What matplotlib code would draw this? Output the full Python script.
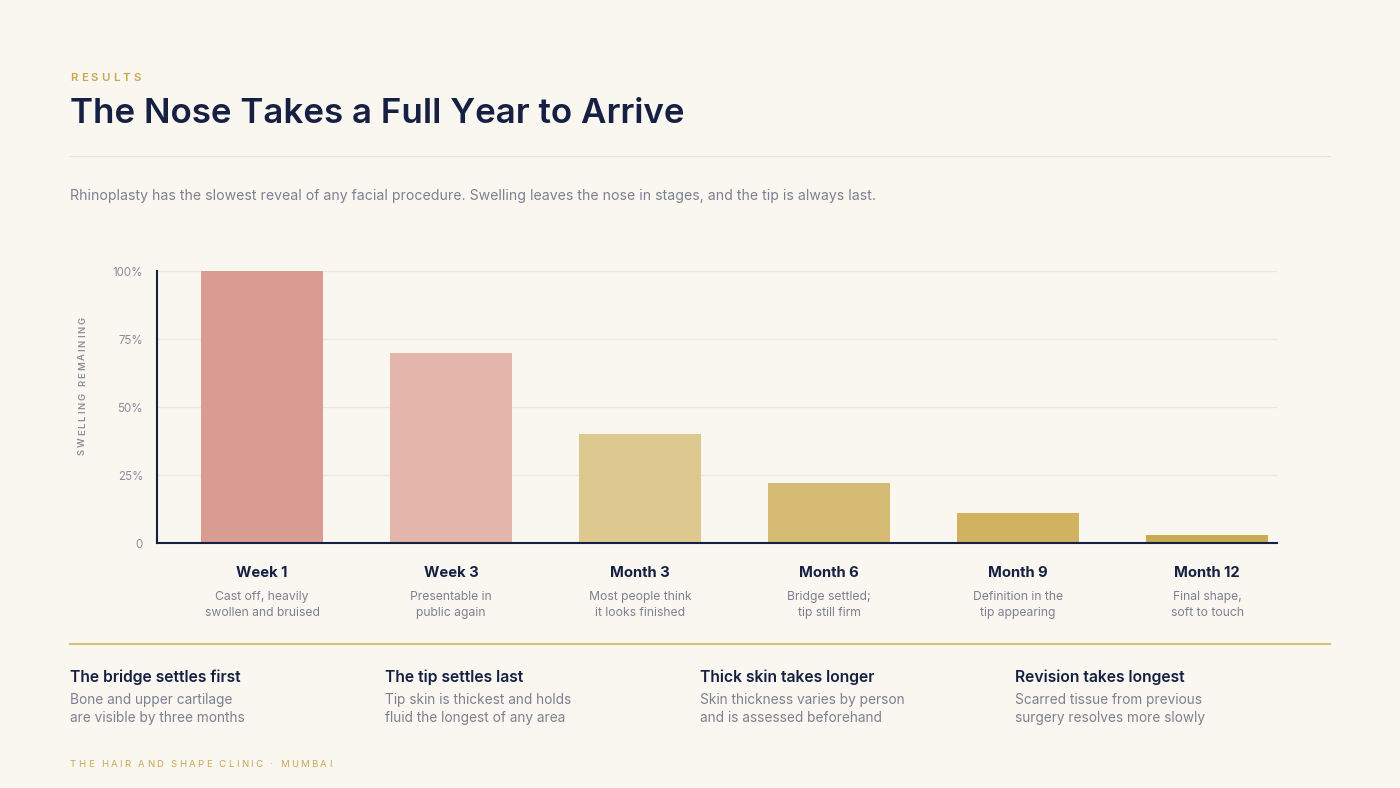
import matplotlib
matplotlib.use('Agg')
import matplotlib.pyplot as plt
import matplotlib.transforms as mtransforms
from matplotlib.font_manager import FontProperties
from matplotlib.lines import Line2D

# ---------------- data ----------------
categories = ['Week 1', 'Week 3', 'Month 3', 'Month 6', 'Month 9', 'Month 12']
swelling = [100, 70, 40, 22, 11, 3]
descriptions = [
    ['Cast off, heavily', 'swollen and bruised'],
    ['Presentable in', 'public again'],
    ['Most people think', 'it looks finished'],
    ['Bridge settled;', 'tip still firm'],
    ['Definition in the', 'tip appearing'],
    ['Final shape,', 'soft to touch'],
]
bar_colors = ['#D99C92', '#E4B5AB', '#DDC990', '#D6BB74', '#D0B261', '#CAAA52']
yticks = [0, 25, 50, 75, 100]
ytick_labels = ['0', '25%', '50%', '75%', '100%']
note_titles = ['The bridge settles first', 'The tip settles last',
               'Thick skin takes longer', 'Revision takes longest']
note_bodies = [
    ['Bone and upper cartilage', 'are visible by three months'],
    ['Tip skin is thickest and holds', 'fluid the longest of any area'],
    ['Skin thickness varies by person', 'and is assessed beforehand'],
    ['Scarred tissue from previous', 'surgery resolves more slowly'],
]
kicker = 'RESULTS'
title = 'The Nose Takes a Full Year to Arrive'
subtitle = ('Rhinoplasty has the slowest reveal of any facial procedure. '
            'Swelling leaves the nose in stages, and the tip is always last.')
ylabel = 'SWELLING REMAINING'
footer = 'THE HAIR AND SHAPE CLINIC \u00b7 MUMBAI'

# ---------------- style ----------------
BG = '#FAF7F1'
NAVY = '#152042'
GRAY = '#7C8191'
TICKGRAY = '#8A8E9C'
GOLD = '#C9A74F'
FONT = ['Inter', 'DejaVu Sans']
plt.rcParams['font.family'] = FONT

W, H = 1400, 788
fig = plt.figure(figsize=(14, 7.88), dpi=100, facecolor=BG)


def fx(px):
    return px / W


def fy(py):
    return 1 - py / H


ax = fig.add_axes([fx(157), fy(543), 1120 / W, 272 / H])
ax.set_facecolor(BG)
ax.bar(range(len(categories)), swelling, width=0.645, color=bar_colors, zorder=2)
ax.set_xlim(-0.556, 5.370)
ax.set_ylim(0, 100)
ax.set_yticks(yticks)
ax.set_yticklabels(ytick_labels)
ax.set_xticks([])
ax.tick_params(axis='y', length=0, pad=10, labelsize=8.3, labelcolor=TICKGRAY)
ax.yaxis.grid(True, color='#ECE7DE', lw=1, zorder=0)
ax.set_axisbelow(True)
for s in ['top', 'right']:
    ax.spines[s].set_visible(False)
for s in ['left', 'bottom']:
    ax.spines[s].set_color(NAVY)
    ax.spines[s].set_linewidth(1.5)
    ax.spines[s].set_zorder(3)

trans = mtransforms.blended_transform_factory(ax.transData, fig.transFigure)
for i, (cat, desc) in enumerate(zip(categories, descriptions)):
    ax.text(i, fy(577), cat, transform=trans, ha='center', va='baseline',
            fontsize=10.7, fontweight='bold', color=NAVY)
    for j, line in enumerate(desc):
        ax.text(i, fy(600 + 16 * j), line, transform=trans, ha='center',
                va='baseline', fontsize=8.75, color=GRAY)

# ---------------- letter-spaced text helper ----------------
renderer = fig.canvas.get_renderer()


def advance(ch, prop):
    w1, _, _ = renderer.get_text_width_height_descent('H' + ch + 'H', prop, ismath=False)
    w0, _, _ = renderer.get_text_width_height_descent('HH', prop, ismath=False)
    return w1 - w0


def spaced(x, y, s, size, spacing, color, weight='normal', vertical=False):
    prop = FontProperties(family=FONT, size=size, weight=weight)
    pos = 0.0
    for ch in s:
        if vertical:
            fig.text(fx(x), fy(y - pos), ch, fontproperties=prop, color=color,
                     rotation=90, rotation_mode='anchor', ha='left', va='baseline')
        else:
            fig.text(fx(x + pos), fy(y), ch, fontproperties=prop, color=color,
                     ha='left', va='baseline')
        pos += advance(ch, prop) + spacing


spaced(70, 81, kicker, 8.2, 3.2, GOLD, weight='semibold')
spaced(85, 455, ylabel, 6.8, 1.9, TICKGRAY, weight='semibold', vertical=True)
spaced(70, 767, footer, 6.9, 2.3, GOLD, weight='normal')

# ---------------- header ----------------
fig.text(fx(70), fy(123), title, fontsize=25.2, fontweight='semibold', color=NAVY,
         ha='left', va='baseline')
fig.add_artist(Line2D([fx(70), fx(1330)], [fy(156), fy(156)], color='#E9E4DB', lw=1))
fig.text(fx(70), fy(200), subtitle, fontsize=10.14, color=GRAY, ha='left', va='baseline')

# ---------------- notes ----------------
fig.add_artist(Line2D([fx(70), fx(1330)], [fy(644), fy(644)], color='#D8BF7C', lw=1.5))
note_x = [70, 385, 700, 1015]
for x, t, body in zip(note_x, note_titles, note_bodies):
    fig.text(fx(x), fy(682), t, fontsize=11.3, fontweight='semibold', color=NAVY,
             ha='left', va='baseline')
    for j, line in enumerate(body):
        fig.text(fx(x), fy(704 + 18 * j), line, fontsize=9.85, color=GRAY,
                 ha='left', va='baseline')

fig.savefig('out.png', dpi=100, facecolor=BG)
